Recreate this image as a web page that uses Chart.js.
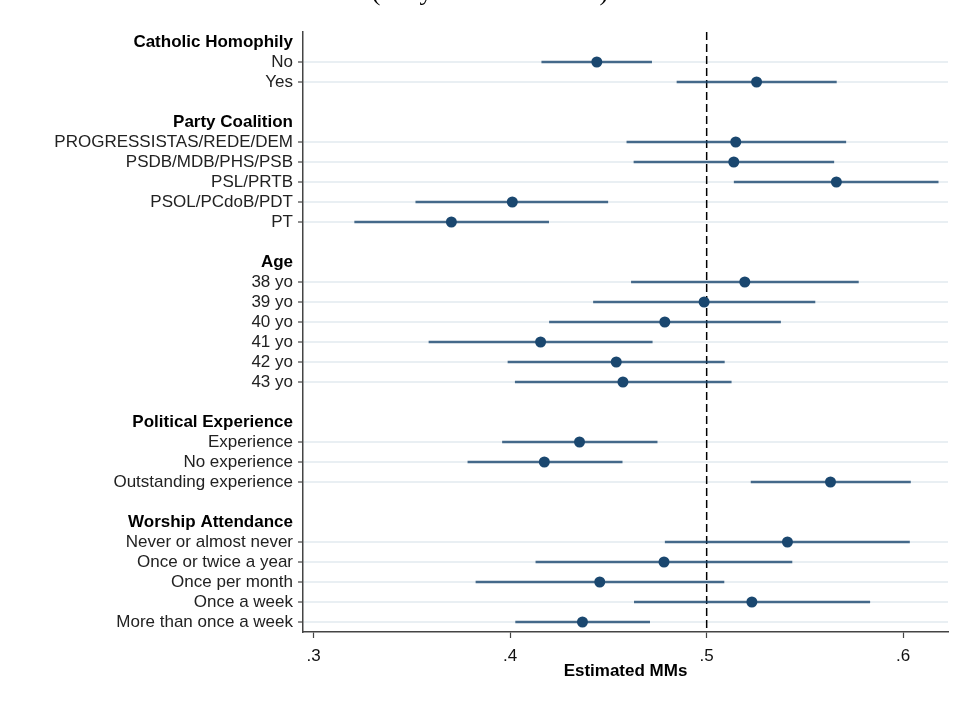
<!DOCTYPE html>
<html>
<head>
<meta charset="utf-8">
<script src="https://cdn.jsdelivr.net/npm/chart.js@4.4.1/dist/chart.umd.min.js"></script>
<style>
  body { margin: 0; background: #fff; }
  canvas { display: block; }
</style>
</head>
<body>
<canvas id="mmChart" width="963" height="706"></canvas>
<script>
const rowLabels = [
  'Catholic Homophily', 'No', 'Yes', '',
  'Party Coalition', 'PROGRESSISTAS/REDE/DEM', 'PSDB/MDB/PHS/PSB', 'PSL/PRTB', 'PSOL/PCdoB/PDT', 'PT', '',
  'Age', '38 yo', '39 yo', '40 yo', '41 yo', '42 yo', '43 yo', '',
  'Political Experience', 'Experience', 'No experience', 'Outstanding experience', '',
  'Worship Attendance', 'Never or almost never', 'Once or twice a year', 'Once per month', 'Once a week', 'More than once a week'
];
const headers = ['Catholic Homophily', 'Party Coalition', 'Age', 'Political Experience', 'Worship Attendance'];

const estimates = [null, .4441, .5254, null,
  null, .5148, .5138, .5660, .4011, .3701, null,
  null, .5194, .4987, .4787, .4155, .4540, .4574, null,
  null, .4353, .4174, .5630, null,
  null, .5411, .4783, .4456, .5230, .4368];
const ciLow = [null, .4161, .4849, null,
  null, .4594, .4630, .5140, .3520, .3209, null,
  null, .4617, .4424, .4200, .3587, .3989, .4026, null,
  null, .3961, .3785, .5226, null,
  null, .4789, .4131, .3826, .4632, .4028];
const ciHigh = [null, .4720, .5660, null,
  null, .5708, .5647, .6178, .4497, .4196, null,
  null, .5772, .5551, .5376, .4723, .5090, .5125, null,
  null, .4748, .4570, .6037, null,
  null, .6032, .5434, .5088, .5830, .4710];

const xTicks = [.3, .4, .5, .6];
const refValue = .5;

const navy = '#1a476f';
const fontFamily = '"Liberation Sans", Arial, sans-serif';
const isData = i => estimates[i] !== null;

// dashed reference line at .5
const refLine = {
  id: 'refLine',
  beforeDatasetsDraw(chart) {
    const { ctx, chartArea } = chart;
    const x = chart.scales.x.getPixelForValue(refValue);
    ctx.save();
    ctx.strokeStyle = '#000';
    ctx.lineWidth = 1.5;
    ctx.setLineDash([8, 4]);
    ctx.beginPath();
    ctx.moveTo(x, chartArea.top);
    ctx.lineTo(x, chartArea.bottom);
    ctx.stroke();
    ctx.restore();
  }
};

// title, mostly cut off at the top edge
const topTitle = {
  id: 'topTitle',
  afterDraw(chart) {
    const ctx = chart.ctx;
    ctx.save();
    ctx.fillStyle = '#000';
    ctx.font = '26px "Liberation Serif", "Times New Roman", serif';
    ctx.textAlign = 'center';
    ctx.textBaseline = 'alphabetic';
    ctx.fillText('(Only Catholic Voters)', 490, -0.5);
    ctx.restore();
  }
};

new Chart(document.getElementById('mmChart'), {
  data: {
    labels: rowLabels,
    datasets: [
      {
        type: 'bar',
        data: rowLabels.map((_, i) => isData(i) ? [ciLow[i], ciHigh[i]] : null),
        backgroundColor: 'rgba(26,71,111,0.8)',
        borderWidth: 0,
        barThickness: 2,
        order: 2
      },
      {
        type: 'line',
        data: estimates,
        showLine: false,
        pointRadius: 5.5,
        pointBackgroundColor: navy,
        pointBorderColor: navy,
        pointBorderWidth: 0,
        order: 1
      }
    ]
  },
  options: {
    indexAxis: 'y',
    responsive: false,
    animation: false,
    layout: { padding: { left: 0, right: 15, top: 32, bottom: 24 } },
    plugins: {
      legend: { display: false },
      tooltip: { enabled: false }
    },
    scales: {
      x: {
        type: 'linear',
        min: .2946,
        max: .6228,
        afterBuildTicks: scale => { scale.ticks = xTicks.map(v => ({ value: v })); },
        afterFit: scale => { scale.height = 50; },
        border: { display: true, color: '#444', width: 1.5 },
        grid: { drawOnChartArea: false, drawTicks: true, tickLength: 6, tickColor: '#444', tickWidth: 1.2 },
        ticks: {
          color: '#111',
          padding: 8,
          font: { family: fontFamily, size: 17 },
          callback: v => String(v).replace('0.', '.')
        },
        title: {
          display: true,
          text: 'Estimated MMs',
          color: '#000',
          padding: { top: 0, bottom: 0 },
          font: { family: fontFamily, size: 17, weight: 'bold' }
        }
      },
      y: {
        type: 'category',
        offset: true,
        afterFit: scale => { scale.width = 303; },
        border: { display: true, color: '#444', width: 1.5 },
        grid: {
          offset: false,
          lineWidth: 2,
          color: ctx => isData(ctx.index) ? '#e9eff3' : 'rgba(0,0,0,0)',
          tickColor: ctx => isData(ctx.index) ? '#444' : 'rgba(0,0,0,0)',
          tickLength: 5,
          tickWidth: 1.2
        },
        ticks: {
          autoSkip: false,
          padding: 5,
          color: ctx => headers.includes(rowLabels[ctx.index]) ? '#000' : '#222',
          font: ctx => ({
            family: fontFamily,
            size: 17,
            weight: headers.includes(rowLabels[ctx.index]) ? 'bold' : 'normal'
          })
        }
      }
    }
  },
  plugins: [refLine, topTitle]
});
</script>
</body>
</html>
